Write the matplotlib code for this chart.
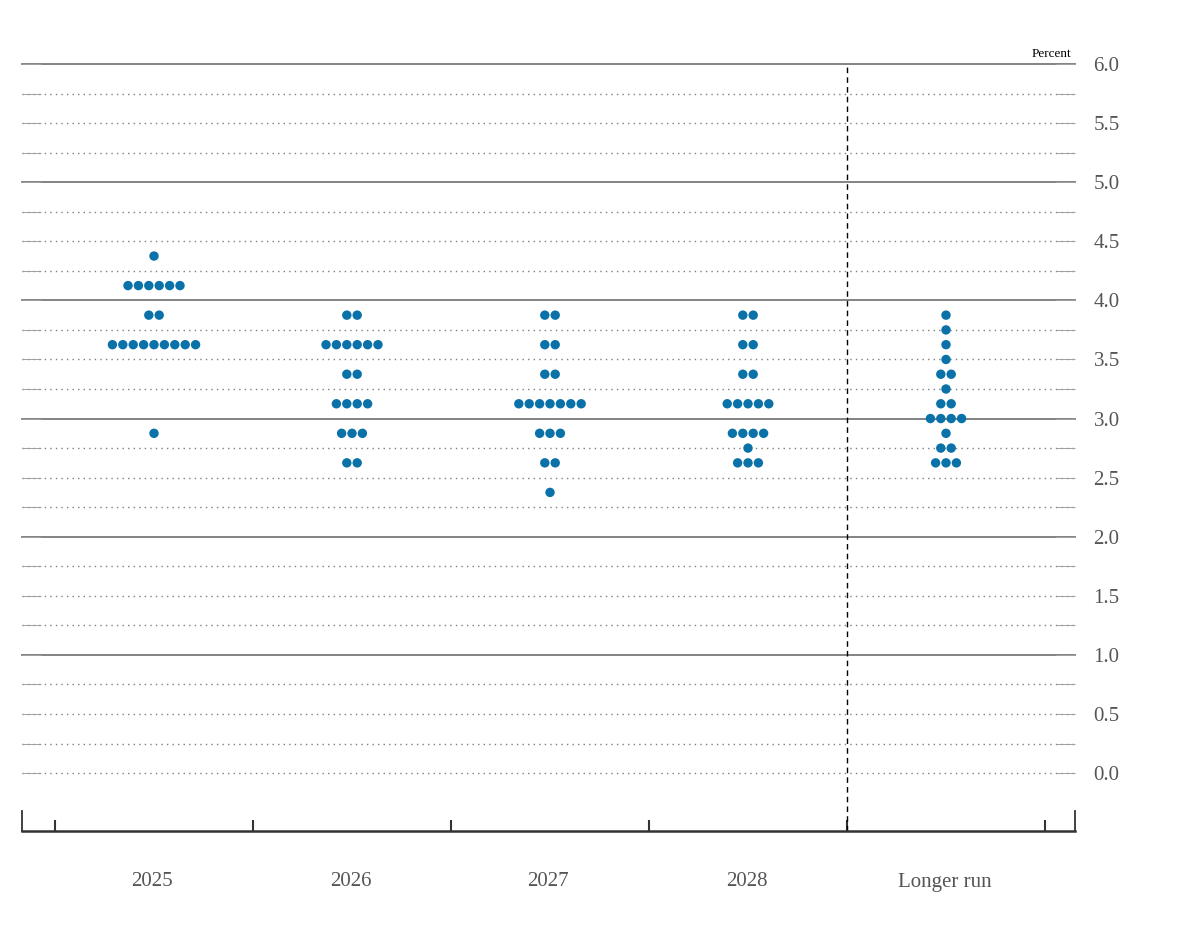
import matplotlib
matplotlib.use("Agg")
import matplotlib.pyplot as plt
import numpy as np

plt.rcParams["font.family"] = ["Liberation Serif", "DejaVu Serif"]

categories = ["2025", "2026", "2027", "2028", "Longer run"]

# midpoint of each participant's target range, and how many dots sit at it
rates_2025 = [4.375, 4.125, 3.875, 3.625, 2.875]
counts_2025 = [1, 6, 2, 9, 1]
rates_2026 = [3.875, 3.625, 3.375, 3.125, 2.875, 2.625]
counts_2026 = [2, 6, 2, 4, 3, 2]
rates_2027 = [3.875, 3.625, 3.375, 3.125, 2.875, 2.625, 2.375]
counts_2027 = [2, 2, 2, 7, 3, 2, 1]
rates_2028 = [3.875, 3.625, 3.375, 3.125, 2.875, 2.75, 2.625]
counts_2028 = [2, 2, 2, 5, 4, 1, 3]
rates_lr = [3.875, 3.75, 3.625, 3.5, 3.375, 3.25, 3.125, 3.0, 2.875, 2.75, 2.625]
counts_lr = [1, 1, 1, 1, 2, 1, 2, 4, 1, 2, 3]

all_rates = [rates_2025, rates_2026, rates_2027, rates_2028, rates_lr]
all_counts = [counts_2025, counts_2026, counts_2027, counts_2028, counts_lr]

dot_color = "#0a72a8"
step = 0.0525  # horizontal gap between neighbouring dots (data units)

fig = plt.figure(figsize=(11.79, 9.39), dpi=100)
ax = fig.add_axes([22 / 1179, 108 / 939, 1053 / 1179, 767 / 939])

ybot = -0.49
ax.set_xlim(-0.6667, 4.6515)
ax.set_ylim(ybot, 6.0)

# horizontal guides: solid at whole percents, dotted at the quarter points
for v in np.arange(0, 6.01, 0.25):
    if v >= 1 and abs(v - round(v)) < 1e-9:
        ax.axhline(v, color="#7a7a7a", lw=1.3, zorder=1, clip_on=False)
    else:
        ax.axhline(v, color="#7f7f7f", lw=1.0, ls=(0, (1, 3)), zorder=1)

# dots
for i, (rates, counts) in enumerate(zip(all_rates, all_counts)):
    for r, n in zip(rates, counts):
        xs = i + (np.arange(n) - (n - 1) / 2) * step
        ax.scatter(xs, [r] * n, s=46, color=dot_color, edgecolors="none", zorder=3)

# separator before the longer-run column
ax.axvline(3.5, color="black", lw=1.0, ls=(0, (4, 3)), zorder=2, clip_on=False)

# y ticks: short inward marks on both sides, labels on the right
ax.set_yticks(np.arange(0, 6.01, 0.5))
ax.set_yticks(np.arange(0.25, 6.0, 0.5), minor=True)
ax.set_yticklabels([f"{v:.1f}" for v in np.arange(0, 6.01, 0.5)])
ax.tick_params(axis="y", which="both", direction="in", length=14, width=0.7,
               color="#a0a0a0", left=True, right=True,
               labelleft=False, labelright=True, pad=-1)
ax.tick_params(axis="y", labelsize=15, labelcolor="#555555")
for lbl in ax.get_yticklabels():
    lbl.set_horizontalalignment("left")
    lbl.set_x(1.0 + 20 / 1053)

# x axis: dividers as ticks, category names as text
ax.set_xticks(np.arange(-0.5, 4.6, 1.0))
ax.set_xticklabels([])
ax.tick_params(axis="x", direction="in", length=8, width=1.5, color="#333333")
for i, c in enumerate(categories):
    ax.text(i - 0.008, -51 / 767, c, transform=ax.get_xaxis_transform(), ha="center",
            va="center", fontsize=15, color="#555555")

ax.spines["top"].set_visible(False)
ax.spines["bottom"].set_color("#333333")
ax.spines["bottom"].set_linewidth(1.8)
for side in ["left", "right"]:
    ax.spines[side].set_color("#333333")
    ax.spines[side].set_linewidth(1.3)
    ax.spines[side].set_bounds(ybot, ybot + 0.17)

ax.text(1071 / 1179, 1 - 54 / 939, "Percent", transform=fig.transFigure,
        ha="right", va="center", fontsize=9.5, color="black")

fig.savefig("out.png", dpi=100)
